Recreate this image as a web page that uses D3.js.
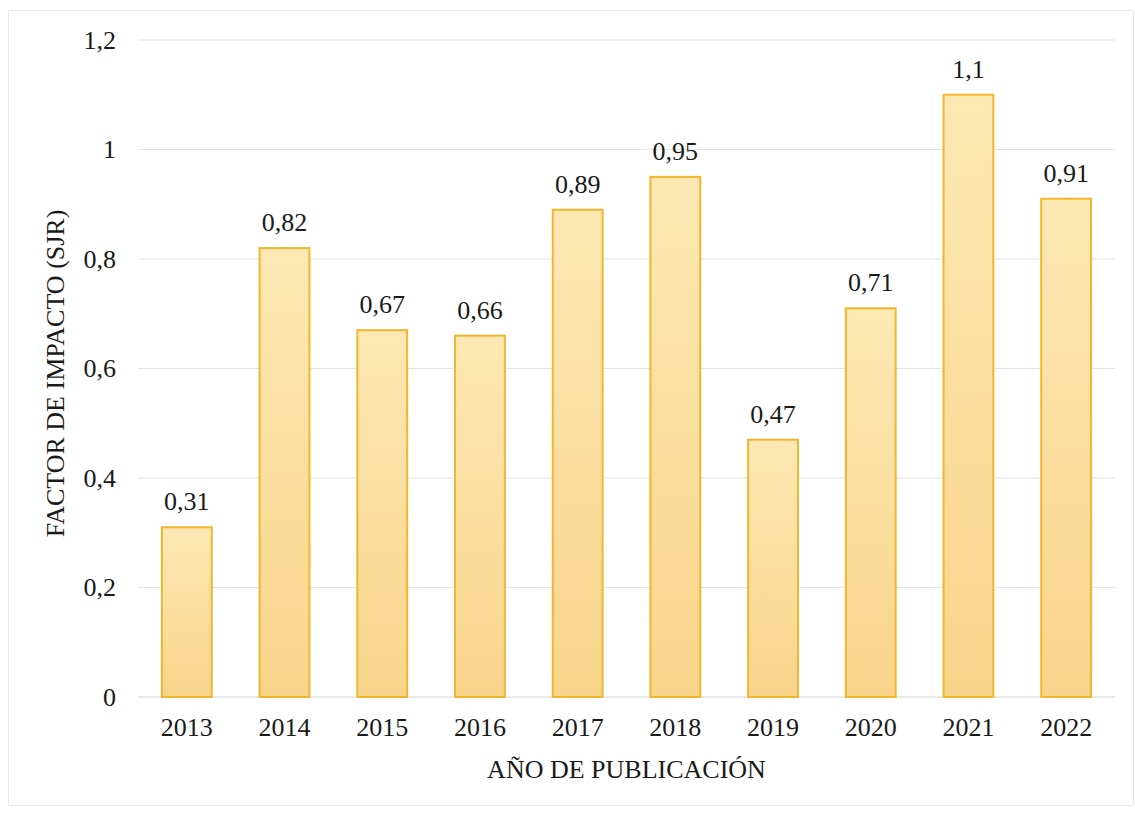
<!DOCTYPE html>
<html>
<head>
<meta charset="utf-8">
<script src="https://cdn.jsdelivr.net/npm/d3@7"></script>
<style>
  html, body { margin: 0; padding: 0; background: #fff; }
  svg { display: block; }
  svg#chart text, svg#chart .tick text { font-family: "Liberation Serif", "Times New Roman", serif !important; }
</style>
</head>
<body>
<svg id="chart" width="1135" height="813"></svg>
<script>
// Impact factor (SJR) by year of publication
const years = ["2013", "2014", "2015", "2016", "2017", "2018", "2019", "2020", "2021", "2022"];
const sjr = [0.31, 0.82, 0.67, 0.66, 0.89, 0.95, 0.47, 0.71, 1.1, 0.91];
const yTicks = [0, 0.2, 0.4, 0.6, 0.8, 1, 1.2];

const FONT = "Liberation Serif, serif";
const FS = "26px";

const svg = d3.select("#chart");
const margin = { left: 138, right: 20, top: 40, bottom: 116 };
const W = 1135, H = 813;

const fmt = v => String(v).replace(".", ",");

const styleText = sel => sel
  .attr("font-family", FONT)
  .style("font-family", FONT).style("font-size", FS).style("fill", "#1a1a1a");

// light outer frame
svg.append("rect")
  .attr("x", 8.5).attr("y", 10.5).attr("width", W - 10).attr("height", H - 18)
  .attr("fill", "none").attr("stroke", "#e8e8e8").attr("stroke-width", 1);

const x = d3.scaleBand().domain(years).range([margin.left, W - margin.right]).paddingInner(0.49).paddingOuter(0.245);
const y = d3.scaleLinear().domain([0, 1.2]).range([H - margin.bottom, margin.top]);

const defs = svg.append("defs");
const grad = defs.append("linearGradient").attr("id", "barFill").attr("x1", 0).attr("y1", 0).attr("x2", 0).attr("y2", 1);
grad.append("stop").attr("offset", "0%").attr("stop-color", "#fde8b4");
grad.append("stop").attr("offset", "100%").attr("stop-color", "#f8d48a");

// gridlines
svg.append("g")
  .selectAll("line").data(yTicks).join("line")
  .attr("x1", margin.left).attr("x2", W - margin.right)
  .attr("y1", d => y(d)).attr("y2", d => y(d))
  .attr("stroke", d => d === 0 ? "#d6d6d6" : "#e4e4e4").attr("stroke-width", 1.2);

// y axis labels
const yAxis = d3.axisLeft(y).tickValues(yTicks).tickFormat(fmt).tickSize(0).tickPadding(0);
svg.append("g")
  .attr("transform", `translate(116,0)`)
  .call(yAxis)
  .attr("font-family", FONT)
  .call(g => g.select(".domain").remove())
  .call(g => g.selectAll("text").call(styleText));

// x axis labels
const xAxis = d3.axisBottom(x).tickSize(0).tickPadding(0);
svg.append("g")
  .attr("transform", `translate(0,${H - margin.bottom + 21})`)
  .call(xAxis)
  .attr("font-family", FONT)
  .call(g => g.select(".domain").remove())
  .call(g => g.selectAll("text").call(styleText));

// bars
svg.append("g")
  .selectAll("rect").data(years).join("rect")
  .attr("x", d => x(d))
  .attr("y", (d, i) => y(sjr[i]))
  .attr("width", x.bandwidth())
  .attr("height", (d, i) => y(0) - y(sjr[i]))
  .attr("fill", "url(#barFill)")
  .attr("stroke", "#f0b62e")
  .attr("stroke-width", 2);

// value labels
svg.append("g")
  .selectAll("text").data(years).join("text")
  .attr("x", d => x(d) + x.bandwidth() / 2)
  .attr("y", (d, i) => y(sjr[i]) - 17)
  .attr("text-anchor", "middle")
  .call(styleText)
  .text((d, i) => fmt(sjr[i]));

// axis titles
svg.append("text")
  .attr("x", (margin.left + W - margin.right) / 2)
  .attr("y", 778)
  .attr("text-anchor", "middle")
  .call(styleText)
  .text("AÑO DE PUBLICACIÓN");

svg.append("text")
  .attr("transform", `translate(64,${y(0.6) + 5}) rotate(-90)`)
  .attr("text-anchor", "middle")
  .call(styleText)
  .text("FACTOR DE IMPACTO (SJR)");
</script>
</body>
</html>
